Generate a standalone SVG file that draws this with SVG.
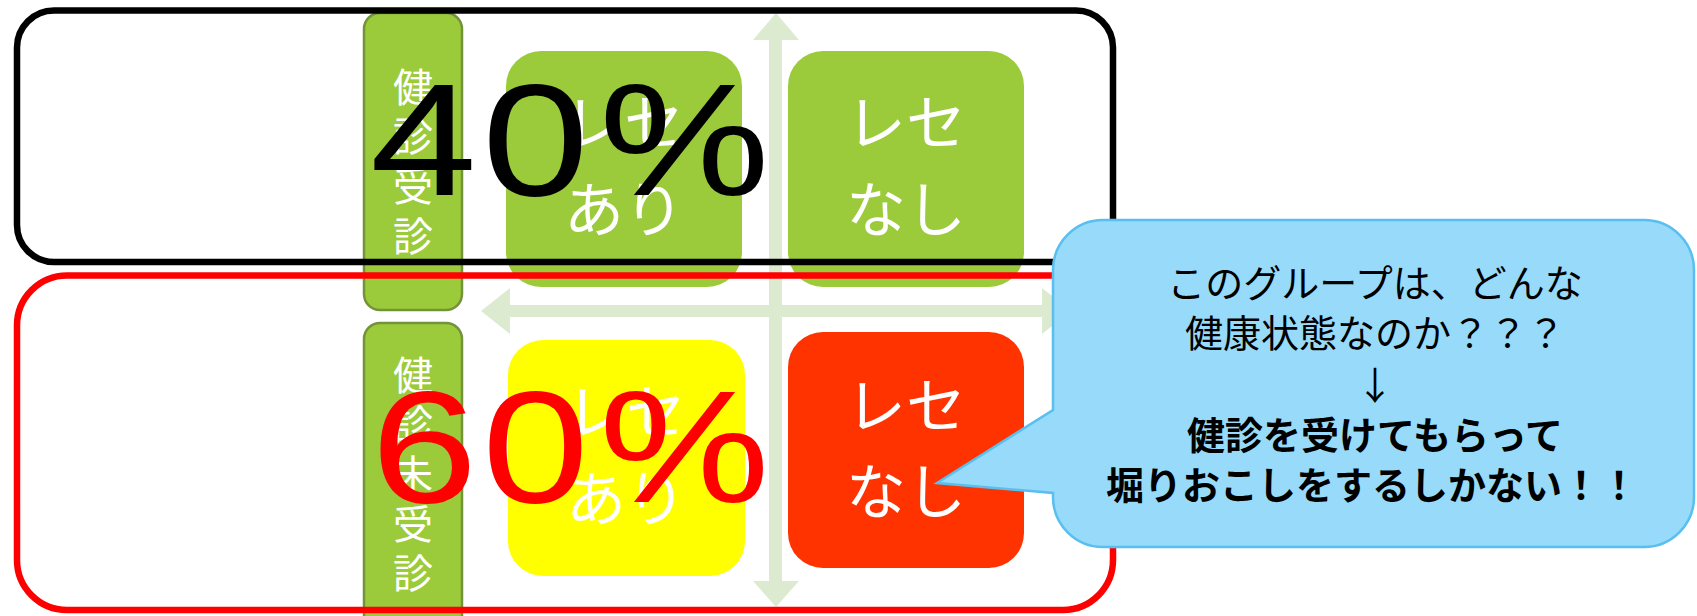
<svg xmlns="http://www.w3.org/2000/svg" width="1697" height="616" viewBox="0 0 1697 616">
<style>
.arrow{fill:#DCEBD0;}
.tab{fill:#9BCB3B;stroke:#72933A;stroke-width:2.5;}
.tabtxt{font-family:"Noto Sans CJK JP","Noto Sans",sans-serif;font-size:40px;fill:#FFFFFF;text-anchor:middle;}
.boxtxt{font-family:"Noto Sans CJK JP","Noto Sans",sans-serif;font-size:60px;fill:#FFFFFF;text-anchor:middle;}
.frame{fill:none;stroke-width:6.5;}
.pct{font-family:"Liberation Sans",Arial,sans-serif;font-size:160px;}
.ctxt{font-family:"Noto Sans CJK JP","Noto Sans",sans-serif;font-size:38px;fill:#000000;text-anchor:middle;}
</style>
<rect width="1697" height="616" fill="#FFFFFF"/>
<g id="connectors">
  <polygon class="arrow" points="481,311 510,288 510,305 1042,305 1042,288 1071,311 1042,334 1042,317 510,317 510,334"/>
  <polygon class="arrow" points="776,13 799,40 782,40 782,581 799,581 776,607 753,581 769,581 769,40 753,40"/>
</g>
<g id="tab-checked">
  <rect class="tab" x="364" y="13" width="98" height="297" rx="16"/>
  <text class="tabtxt" x="413" y="102">健</text>
  <text class="tabtxt" x="413" y="151">診</text>
  <text class="tabtxt" x="413" y="201">受</text>
  <text class="tabtxt" x="413" y="251">診</text>
</g>
<g id="tab-unchecked">
  <rect class="tab" x="364" y="323" width="98" height="320" rx="16"/>
  <text class="tabtxt" x="413" y="390">健</text>
  <text class="tabtxt" x="413" y="439">診</text>
  <text class="tabtxt" x="413" y="489">未</text>
  <text class="tabtxt" x="413" y="539">受</text>
  <text class="tabtxt" x="413" y="588">診</text>
</g>
<g id="box-top-left">
  <rect x="506" y="51" width="236" height="236" rx="35" fill="#9BCB3B"/>
  <text class="boxtxt" x="624" y="145">レセ</text>
  <text class="boxtxt" x="624" y="232">あり</text>
</g>
<g id="box-top-right">
  <rect x="788" y="51" width="236" height="236" rx="35" fill="#9BCB3B"/>
  <text class="boxtxt" x="906" y="145">レセ</text>
  <text class="boxtxt" x="906" y="232">なし</text>
</g>
<g id="box-bottom-left">
  <rect x="508" y="340" width="237" height="236" rx="35" fill="#FFFF00"/>
  <text class="boxtxt" x="626" y="434">レセ</text>
  <text class="boxtxt" x="626" y="521">あり</text>
</g>
<g id="box-bottom-right">
  <rect x="788" y="332" width="236" height="236" rx="35" fill="#FF3300"/>
  <text class="boxtxt" x="906" y="428">レセ</text>
  <text class="boxtxt" x="906" y="514">なし</text>
</g>
<g id="frame-40">
  <rect class="frame" x="17" y="10.5" width="1096" height="251.5" rx="37" stroke="#000000"/>
</g>
<g id="frame-60">
  <rect class="frame" x="17" y="275.5" width="1096" height="334.5" rx="50" stroke="#FF0000"/>
</g>
<g id="callout">
  <path d="M1103,220 H1644 A50,50 0 0 1 1694,270 V497 A50,50 0 0 1 1644,547 H1103 A50,50 0 0 1 1053,497 V493 L937,483 L1053,410 V270 A50,50 0 0 1 1103,220 Z" fill="#97DAF9" stroke="#58BFF0" stroke-width="2.5"/>
  <text class="ctxt" x="1375" y="297">このグループは、どんな</text>
  <text class="ctxt" x="1375" y="347">健康状態なのか？？？</text>
  <text class="ctxt" x="1375" y="399">↓</text>
  <text class="ctxt" x="1375" y="449" font-weight="bold">健診を受けてもらって</text>
  <text class="ctxt" x="1372" y="499" font-weight="bold">堀りおこしをするしかない！！</text>
</g>
<g id="pct-40">
  <text class="pct" fill="#000000" transform="translate(0,195) scale(1.2,1)" x="308.3 401.6 499.2" y="0">40%</text>
</g>
<g id="pct-60">
  <text class="pct" fill="#FF0000" transform="translate(0,502) scale(1.2,1)" x="308.9 401.6 499.2" y="0">60%</text>
</g>
</svg>
